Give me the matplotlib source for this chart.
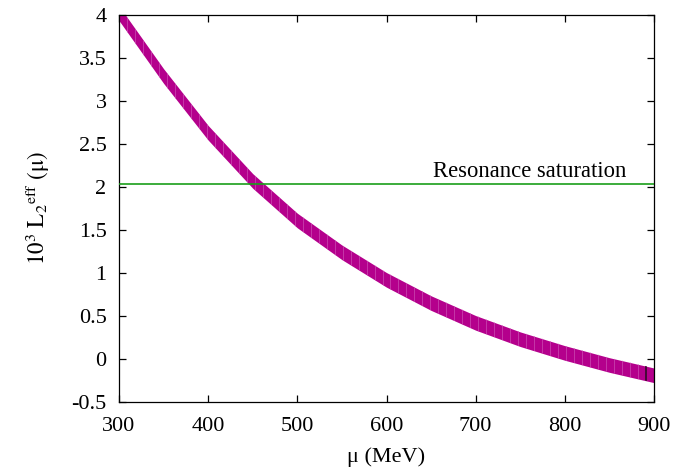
import numpy as np
import matplotlib
matplotlib.use('Agg')
import matplotlib.pyplot as plt

# datos
mu = [300, 350, 400, 450, 500, 550, 600, 650, 700, 750, 800, 850, 900]
L2_sup = [4.105, 3.375, 2.715, 2.155, 1.695, 1.325, 1.005, 0.735, 0.505, 0.315, 0.155, 0.015, -0.105]
L2_inf = [3.935, 3.205, 2.545, 1.985, 1.525, 1.155, 0.835, 0.565, 0.335, 0.145, -0.015, -0.155, -0.275]
L2_res = 2.035
etiqueta_res = 'Resonance saturation'

xticks = [300, 400, 500, 600, 700, 800, 900]
yticks = [-0.5, 0, 0.5, 1, 1.5, 2, 2.5, 3, 3.5, 4]
ytick_labels = ['-0.5', '0', '0.5', '1', '1.5', '2', '2.5', '3', '3.5', '4']

plt.rcParams['font.family'] = ['Liberation Serif', 'DejaVu Serif']
plt.rcParams['mathtext.fontset'] = 'stix'
plt.rcParams['axes.unicode_minus'] = False

fig = plt.figure(figsize=(6.74, 4.76), dpi=100)
ax = fig.add_axes([0.1766, 0.1555, 0.7937, 0.813])

# banda
banda = ax.fill_between(mu, L2_inf, L2_sup, color='#b4008c', linewidth=0, zorder=2)

# rayas verticales de la banda (como en gnuplot)
xs = np.linspace(300, 900, 68)
rayas = ax.vlines(xs[1:-2], -1, 5, colors='#cf55b8', linewidth=0.45, zorder=3)
rayas.set_clip_path(banda.get_paths()[0], ax.transData)
ultima = ax.vlines([xs[-2]], -1, 5, colors='#3c0a30', linewidth=1.3, zorder=3)
ultima.set_clip_path(banda.get_paths()[0], ax.transData)

# saturacion de resonancias
ax.axhline(L2_res, color='#1a9e1a', linewidth=1.2, zorder=4)
ax.text(869, 2.12, etiqueta_res, ha='right', va='baseline', fontsize=16.3)

ax.set_xlim(300, 900)
ax.set_ylim(-0.5, 4)
ax.set_xticks(xticks)
ax.set_yticks(yticks)
ax.set_yticklabels(ytick_labels)
ax.tick_params(direction='in', length=5, width=0.9, labelsize=16,
               top=True, right=True, pad=9)
ax.tick_params(axis='x', pad=11)
for s in ax.spines.values():
    s.set_linewidth(0.9)

ax.set_xlabel('μ (MeV)', fontsize=16, labelpad=8)
ax.set_ylabel(r'$10^3\ \mathrm{L}_2{}^{\mathrm{eff}}\ (\mathrm{μ})$', fontsize=16.5, labelpad=14)

fig.savefig('out.png', dpi=100)
